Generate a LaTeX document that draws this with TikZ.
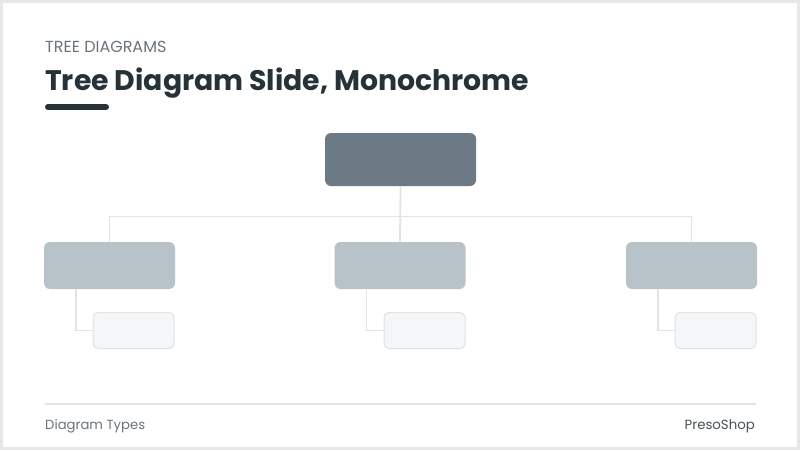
\documentclass[tikz,border=0pt]{standalone}
\usepackage{fontspec}
\setmainfont{Poppins}
\usepackage{tikz}
\usetikzlibrary{positioning}
\definecolor{framegray}{HTML}{E6E7E8}
\definecolor{inkdark}{HTML}{263238}
\definecolor{inkgray}{HTML}{6B747D}
\definecolor{rootfill}{HTML}{6B7A84}
\definecolor{kidfill}{HTML}{B8C3C9}
\definecolor{leaffill}{HTML}{F4F6F7}
\definecolor{leafline}{HTML}{DFE3E6}
\definecolor{wirecol}{HTML}{E1E4E6}

\begin{document}
\begin{tikzpicture}[x=1pt, y=-1pt,
    rootbox/.style={fill=rootfill, draw=none, rounded corners=6pt, minimum width=151pt, minimum height=53pt, inner sep=0pt},
    kidbox/.style={fill=kidfill, draw=none, rounded corners=6pt, minimum width=131pt, minimum height=47pt, inner sep=0pt},
    leafbox/.style={fill=leaffill, draw=leafline, line width=1pt, rounded corners=5pt, minimum width=81pt, minimum height=36pt, inner sep=0pt},
    wire/.style={draw=wirecol, line width=1.8pt},
    label/.style={inner sep=0pt, anchor=base west}]
    \useasboundingbox (0,0) rectangle (800,450);

    % Frame
    \fill [framegray] (0,0) rectangle (800,450);
    \fill [white] (3,3) rectangle (797,447);

    % Heading
    \node [label, text=inkgray, font=\fontsize{16}{19}\selectfont] (kicker) at (45,52.3) {TREE DIAGRAMS};
    \node [label, text=inkdark, font=\fontsize{28.3}{34}\selectfont\bfseries] (title) at (45,90.7) {Tree Diagram Slide, Monochrome};
    \draw [inkdark, line width=6pt, line cap=round] (48,107) -- (106,107);

    % Boxes
    \node [rootbox] (root) at (400.5,159.5) {};
    \node [kidbox] (kidA) at (109.5,265.5) {};
    \node [kidbox] (kidB) at (400,265.5) {};
    \node [kidbox] (kidC) at (691.5,265.5) {};
    \node [leafbox] (leafA) at (133.5,330.5) {};
    \node [leafbox] (leafB) at (424.5,330.5) {};
    \node [leafbox] (leafC) at (715.5,330.5) {};

    % Connectors
    \coordinate (bus) at (400,216.5);
    \draw [wire] (root.south) -- (kidB.north);
    \draw [wire] (kidA.north) |- (bus) -| (kidC.north);
    \foreach \k in {A,B,C}
        \draw [wire] ([xshift=-33.5pt]kid\k.south) |- (leaf\k.west);

    % Footer
    \draw [wirecol, line width=1.6pt] (45,404) -- (756,404);
    \node [label, text=inkgray, font=\fontsize{13.2}{16}\selectfont] (foot) at (45,429) {Diagram Types};
    \node [label, anchor=base east, text=inkdark!85, font=\fontsize{13.3}{16}\selectfont] (brand) at (755,429) {PresoShop};
\end{tikzpicture}
\end{document}
